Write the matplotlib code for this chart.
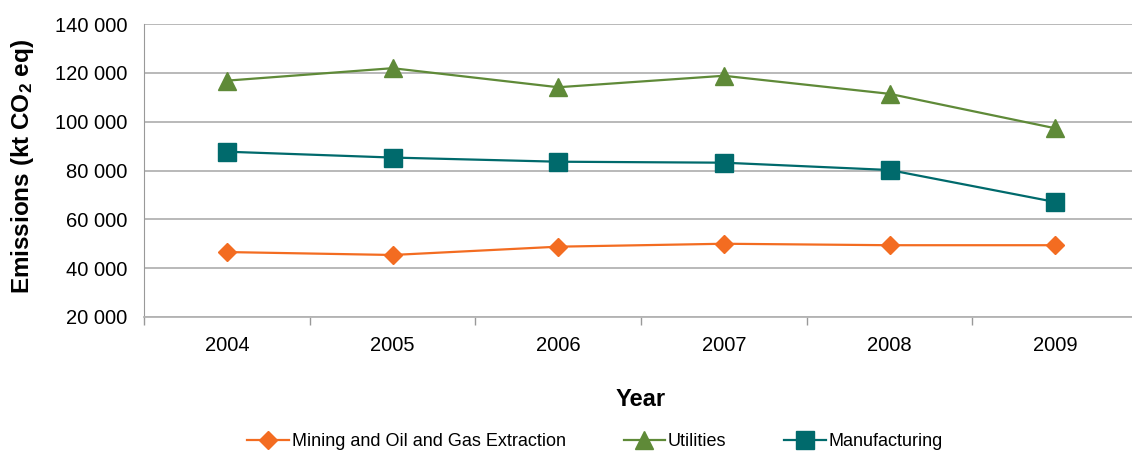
import matplotlib
matplotlib.use("Agg")
from matplotlib import pyplot as plt
import numpy as np

years = ["2004", "2005", "2006", "2007", "2008", "2009"]
mining = [46600, 45400, 48800, 50000, 49400, 49400]
utilities = [116800, 121900, 114100, 118800, 111400, 97300]
manufacturing = [87700, 85300, 83600, 83200, 80200, 67100]
yticks = [20000, 40000, 60000, 80000, 100000, 120000, 140000]

plt.rcParams["font.family"] = ["Liberation Sans", "DejaVu Sans"]
plt.rcParams["mathtext.default"] = "regular"

fig = plt.figure(figsize=(11.32, 4.51), dpi=100)
ax = fig.add_axes([144 / 1132, 1 - 317 / 451, 994 / 1132, 293 / 451])

x = np.arange(len(years))
ax.plot(x, mining, color="#F36C21", marker="D", markersize=8.7, linewidth=1.6,
        label="Mining and Oil and Gas Extraction")
ax.plot(x, utilities, color="#5F8A38", marker="^", markersize=12.5, linewidth=1.6,
        label="Utilities")
ax.plot(x, manufacturing, color="#006A6C", marker="s", markersize=12.5, linewidth=1.6,
        label="Manufacturing")

ax.set_xlim(-0.5, len(years) - 0.5)
ax.set_ylim(20000, 140000)
ax.set_yticks(yticks)
ax.set_yticklabels(["{:,}".format(v).replace(",", " ") for v in yticks])
ax.yaxis.grid(True, color="#b3b3b3", linewidth=1.3)
ax.set_axisbelow(True)

# boundary ticks between years, labels sit in the middle of each slot
ax.set_xticks(np.arange(len(years) + 1) - 0.5)
ax.set_xticklabels([])
ax.set_xticks(x, minor=True)
ax.set_xticklabels(years, minor=True)
ax.tick_params(axis="x", which="major", length=6, width=1, color="#999999", direction="out")
ax.tick_params(axis="x", which="minor", length=0, pad=14, labelsize=14.5)
ax.tick_params(axis="y", length=0, pad=12, labelsize=14.5)

for s in ["top", "right"]:
    ax.spines[s].set_visible(False)
ax.spines["left"].set_color("#999999")
ax.spines["bottom"].set_color("#b3b3b3")
ax.spines["bottom"].set_linewidth(1.3)

ax.set_ylabel(r"Emissions (kt CO$_{2}$ eq)", fontsize=17.5, fontweight="bold")
ax.yaxis.label.set_va("center")
ax.yaxis.set_label_coords((23 - 144) / 994, (317 - 166) / 293)
ax.set_xlabel("Year", fontsize=17, fontweight="bold")
ax.xaxis.set_label_coords((641 - 144) / 994, (317 - 399) / 293)
ax.xaxis.label.set_va("center")

fig.legend(loc="center", bbox_to_anchor=(595 / 1132, 1 - 442 / 451), ncol=3,
           frameon=False, fontsize=13, handlelength=2.3, handletextpad=0.15,
           columnspacing=3.2)

fig.savefig("out.png", dpi=100)
